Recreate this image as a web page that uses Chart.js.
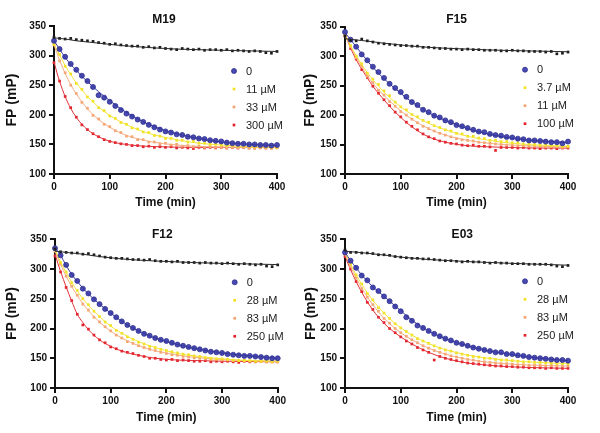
<!DOCTYPE html>
<html><head><meta charset="utf-8">
<script src="https://cdn.jsdelivr.net/npm/chart.js@4.4.1/dist/chart.umd.min.js"></script>
<style>
html,body{margin:0;padding:0;background:#fff;width:600px;height:433px;overflow:hidden}
canvas{position:absolute}
</style></head><body>
<canvas id="c0" width="300" height="216" style="left:0;top:0"></canvas>
<canvas id="c1" width="300" height="216" style="left:300px;top:0"></canvas>
<canvas id="c2" width="300" height="217" style="left:0;top:216px"></canvas>
<canvas id="c3" width="300" height="217" style="left:300px;top:216px"></canvas>
<script>
// ---------- DATA ----------
const TIME = [0,10,20,30,40,50,60,70,80,90,100,110,120,130,140,150,160,170,180,190,200,210,220,230,240,250,260,270,280,290,300,310,320,330,340,350,360,370,380,390,400];
const FIT_TIME = [0,5,10,20,30,40,50,60,80,100,120,150,180,220,260,300,350,400];
const X_TICKS = [0,100,200,300,400];
const Y_TICKS = [100,150,200,250,300,350];
const X_TITLE = 'Time (min)';
const Y_TITLE = 'FP (mP)';

// M19
const M19_LABELS = ['0','11 µM','33 µM','300 µM'];
const M19_BLACK = [331,329,328,329,327,326,325,324,322,321,319,320,318,317,316,316,314,315,313,314,312,311,310,312,311,310,311,309,310,310,309,310,308,309,308,307,308,307,305,304,307];
const M19_BLUE = [325,311,298,286,276,266,257,247,233,229,222,215,208,202,197,192,188,183,179,175,172,170,167,166,163,162,160,159,157,156,155,153,152,151,151,150,150,149,149,148,149];
const M19_YELLOW = [319,302,282,269,253,243,230,223,212,207,198,194,187,184,178,176,171,170,165,164,160,160,157,157,154,155,152,152,150,150,149,148,148,147,147,147,146,146,146,145,145];
const M19_ORANGE = [318,291,271,250,236,221,211,199,193,184,180,173,170,164,163,158,158,154,154,151,152,149,150,147,148,146,147,145,146,145,145,144,145,144,145,144,143,144,144,143,144];
const M19_RED = [288,257,231,212,196,183,175,168,163,158,155,153,151,150,148,148,146,147,145,146,145,146,144,145,144,143,145,144,145,144,145,144,145,144,145,144,145,145,144,145,145];
const M19_BLACK_FIT = [330,329.5,329,328,326.5,325,324,323,321,319,317,315,313,311,310,309,308,307];
const M19_BLUE_FIT = [325,318,311,297,285,275,265,256,239,224,210,193,180,168,160,154,150,148];
const M19_YELLOW_FIT = [320,310,301,283,268,254,242,231,213,199,188,175,166,158,152,149,146,145];
const M19_ORANGE_FIT = [318,305,292,270,251,235,222,210,192,179,169,159.5,153.5,149,146.6,145.4,144.7,144.3];
const M19_RED_FIT = [290,272,256.5,230.7,210.8,195.6,183.9,174.9,162.7,155.4,151.2,147.8,146.3,145.3,145,145,145,145];

// F15
const F15_LABELS = ['0','3.7 µM','11 µM','100 µM'];
const F15_BLACK = [334,327,326,329,326,324,322,321,320,319,318,318,317,317,315,315,314,313,313,312,312,311,312,311,311,310,310,310,309,309,310,309,309,308,308,308,307,308,304,305,307];
const F15_BLUE = [341,328,316,303,293,282,273,263,253,246,239,231,222,217,209,205,199,196,191,188,183,181,178,175,172,171,168,166,165,163,162,160,159,157,157,156,155,154,154,152,155];
const F15_YELLOW = [336,318,300,287,271,261,252,241,233,222,214,209,201,197,191,188,182,179,175,173,169,168,164,164,161,160,157,157,155,155,153,153,151,151,150,149,149,148,148,147,147];
const F15_ORANGE = [336,316,297,283,266,255,242,234,223,215,206,200,193,187,181,177,173,169,166,163,160,158,157,156,154,153,152,151,150,149,149,148,148,147,147,147,146,146,146,145,146];
const F15_RED = [335,313,295,277,264,249,237,226,216,205,197,188,181,175,168,163,160,156,154,152,151,149,148,149,147,147,146,140,145,145,145,144,145,144,144,143,144,144,143,144,144];
const F15_BLACK_FIT = [330,329,328.5,327.5,326.5,325.5,324.5,323,321,319,317,315,313.5,312,310.5,309.5,308.5,307.5];
const F15_BLUE_FIT = [340,334,328,316,304,292,281,271,253,237,222,204,191,177,167,161,156,153];
const F15_YELLOW_FIT = [336,327,318,301,286,272,260,249,230,214,201,186,175,164,157,152,149,147];
const F15_ORANGE_FIT = [336,326,316,298,282,267,254,243,224,207,193,177,166,157,152,149,147,146];
const F15_RED_FIT = [336,325,314,294,278,263,249,237,215,196,180,163,154,148,146,145,144,144];

// F12
const F12_LABELS = ['0','28 µM','83 µM','250 µM'];
const F12_BLACK = [334,329,328,327,327,325,326,324,322,320,319,318,318,317,316,316,315,316,314,313,313,312,313,311,311,311,310,311,310,310,309,310,309,308,309,308,307,308,305,304,307];
const F12_BLUE = [335,323,307,290,280,267,259,249,241,233,226,219,212,206,201,196,191,188,184,181,179,176,173,171,169,167,165,163,161,160,159,157,156,155,154,154,153,152,151,150,150];
const F12_YELLOW = [332,311,295,277,264,250,240,229,220,211,205,197,192,186,182,177,174,170,168,165,163,161,159,157,156,154,153,151,150,149,149,148,147,146,146,146,145,145,145,144,145];
const F12_ORANGE = [330,308,288,271,256,241,231,219,211,203,196,189,184,178,175,171,168,165,163,160,158,156,155,153,152,151,150,149,148,148,147,147,146,146,146,145,145,145,145,144,144];
const F12_RED = [322,295,269,247,224,206,199,189,181,176,169,166,162,160,158,155,153,150,150,148,147,148,146,147,146,145,145,146,144,145,144,145,144,143,145,144,144,145,144,144,144];
const F12_BLACK_FIT = [330,329.5,329,328,327,326,325,323.5,321,319,317,315,313.5,312,310.5,309.5,308.5,307.5];
const F12_BLUE_FIT = [335,330,323,306,291,279,268,258,241,226,212,196,184,173,165,159,154,150];
const F12_YELLOW_FIT = [333,322,312,294,278,263,250,239,220,204,192,178,168,158,153,149,146,145];
const F12_ORANGE_FIT = [330,318.5,307.7,288,270.7,255.4,242,230,210.8,195.5,184,171.2,162.6,155.2,150.7,147.9,146,145];
const F12_RED_FIT = [325,310,296,270,246,224,210,198,181,170,162,155,150,147,146,145,144.5,144];

// E03
const E03_LABELS = ['0','28 µM','83 µM','250 µM'];
const E03_BLACK = [332,328,328,327,327,326,324,324,323,321,320,319,318,318,317,317,316,315,314,314,313,312,313,312,312,311,310,311,310,310,309,309,309,308,308,308,308,307,305,304,306];
const E03_BLUE = [328,314,302,289,281,269,263,254,246,237,229,219,213,205,201,196,191,187,183,180,176,174,171,168,166,164,162,160,160,157,157,155,154,152,151,150,149,148,147,147,146];
const E03_YELLOW = [327,309,290,275,259,248,235,226,217,208,201,195,189,183,179,175,171,167,164,162,159,157,155,153,152,150,150,148,147,147,146,145,144,144,143,143,142,142,141,141,141];
const E03_ORANGE = [325,304,285,267,253,240,229,217,209,200,193,187,181,176,171,167,163,160,157,154,152,150,148,147,145,144,143,142,141,141,140,139,139,138,138,138,137,138,137,137,137];
const E03_RED = [321,300,279,262,244,232,219,210,200,193,186,179,174,168,164,160,147,153,150,148,146,144,142,141,140,139,138,137,137,136,136,135,135,134,134,134,133,134,133,133,133];
const E03_BLACK_FIT = [330,329.5,329,328.5,327.5,326.5,325.5,324.5,322.5,320,318.5,316,314.5,312.5,311,309.5,308,306.5];
const E03_BLUE_FIT = [328,321,314,302,290,280,270,262,246,230,214,196,183,171,162,156,150,146];
const E03_YELLOW_FIT = [328,317.8,308.2,290.4,274.5,260.1,247.5,236,216.7,201.2,188.9,174.7,164.5,155.4,149.6,145.8,142.8,141.3];
const E03_ORANGE_FIT = [325,314,304,285,268,253,240,228,208,193,181,167,157,148,143,140,138,137];
const E03_RED_FIT = [322,310,299,279,261,245,231,219,200,186,174,160,150,142,138,135.5,134,133];

// ---------- STYLE / LAYOUT ----------
const FONT = '"Liberation Sans", Arial, Helvetica, sans-serif';
Chart.defaults.font.family = FONT;
Chart.defaults.color = '#111';

const STYLES = [
  {color:'#1a1a1a', border:'#1a1a1a', line:'#2a2a2a', shape:'rect', r:1.9, bw:0},
  {color:'#4a4bb2', border:'#2c2d8e', line:'#35369c', shape:'circle', r:2.5, bw:0.8},
  {color:'#f1e11e', border:'#f1e11e', line:'#f3e43a', shape:'rect', r:1.9, bw:0},
  {color:'#f4a46e', border:'#f4a46e', line:'#f5ac80', shape:'rect', r:1.9, bw:0},
  {color:'#e2232c', border:'#e2232c', line:'#e33038', shape:'rect', r:1.9, bw:0}
];

const panelDeco = {
  id:'panelDeco',
  afterDatasetsDraw(chart, args, o) {
    const ctx = chart.ctx, a = chart.chartArea;
    ctx.save();
    ctx.fillStyle = '#111';
    ctx.font = 'bold 12px ' + FONT;
    ctx.textAlign = 'center';
    ctx.textBaseline = 'middle';
    ctx.fillText(o.title, (a.left + a.right) / 2 + o.titleDx, o.titleY);
    ctx.font = '11px ' + FONT;
    ctx.textAlign = 'left';
    o.items.forEach((it, i) => {
      const y = a.top + o.legTop + i * o.legStep;
      const x = a.right - o.markDx;
      const s = it.style;
      ctx.fillStyle = s.color;
      ctx.strokeStyle = s.border;
      ctx.lineWidth = s.bw;
      if (s.shape === 'circle') {
        ctx.beginPath(); ctx.arc(x, y, s.r, 0, Math.PI * 2); ctx.fill(); if (s.bw) ctx.stroke();
      } else {
        const h = s.r * Math.SQRT1_2;
        ctx.fillRect(x - h, y - h, 2 * h, 2 * h);
      }
      ctx.fillStyle = '#222';
      ctx.fillText(it.label, a.right - o.textDx, y + 0.5);
    });
    ctx.restore();
  }
};

function makePanel(id, title, labels, dataSets, fitSets, L) {
  const datasets = [];
  const items = [];
  dataSets.forEach((vals, i) => {
    const s = STYLES[i];
    datasets.push({
      type:'line', label:'fit', data: FIT_TIME.map((t, j) => ({x:t, y:fitSets[i][j]})),
      borderColor:s.line, borderWidth:1, pointRadius:0, cubicInterpolationMode:'monotone', fill:false, clip:false
    });
    datasets.push({
      type:'line', showLine:false, label: i === 0 ? 'control' : labels[i - 1],
      data: TIME.map((t, j) => ({x:t, y:vals[j]})),
      pointStyle:s.shape, pointRadius:s.r, pointBackgroundColor:s.color, pointBorderColor:s.border,
      pointBorderWidth:s.bw, pointHoverRadius:s.r, clip:false
    });
    if (i > 0) items.push({label: labels[i - 1], style: s});
  });
  const tickFont = {size:10, weight:'bold'};
  const grid = {display:true, drawOnChartArea:false, drawTicks:true, tickLength:5, tickWidth:2, tickColor:'#111', color:'#111', lineWidth:2};
  const border = {display:true, color:'#111', width:2};
  new Chart(document.getElementById(id), {
    type:'line',
    data:{datasets},
    options:{
      responsive:false, animation:false, devicePixelRatio:1,
      layout:{padding:L.pad},
      plugins:{legend:{display:false}, tooltip:{enabled:false},
        panelDeco:{title, items, titleY:L.titleY, titleDx:L.titleDx, legTop:L.legTop, legStep:18, markDx:43, textDx:31}},
      scales:{
        x:{type:'linear', min:0, max:400, grid, border,
           afterBuildTicks: sc => { sc.ticks = X_TICKS.map(v => ({value:v})); },
           afterFit: sc => { sc.height = L.xH; },
           ticks:{font:tickFont, color:'#111', padding:2, maxRotation:0},
           title:{display:true, text:X_TITLE, font:{size:12, weight:'bold'}, color:'#111', padding:{top:0, bottom:L.xTitlePad}}},
        y:{type:'linear', min:100, max:350, grid, border,
           afterBuildTicks: sc => { sc.ticks = Y_TICKS.map(v => ({value:v})); },
           afterFit: sc => { sc.width = L.yW; },
           ticks:{font:tickFont, color:'#111', padding:3},
           title:{display:true, text:Y_TITLE, font:{size:14, weight:'bold'}, color:'#111', padding:{top:L.yTitlePad, bottom:0}}}
      }
    },
    plugins:[panelDeco]
  });
}

makePanel('c0', 'M19', M19_LABELS,
  [M19_BLACK, M19_BLUE, M19_YELLOW, M19_ORANGE, M19_RED],
  [M19_BLACK_FIT, M19_BLUE_FIT, M19_YELLOW_FIT, M19_ORANGE_FIT, M19_RED_FIT],
  {pad:{left:0, top:26, right:23, bottom:0}, yW:54, xH:42, xTitlePad:6.5, yTitlePad:3.3, titleY:19.3, titleDx:-1.5, legTop:45});
makePanel('c1', 'F15', F15_LABELS,
  [F15_BLACK, F15_BLUE, F15_YELLOW, F15_ORANGE, F15_RED],
  [F15_BLACK_FIT, F15_BLUE_FIT, F15_YELLOW_FIT, F15_ORANGE_FIT, F15_RED_FIT],
  {pad:{left:0, top:26.7, right:32, bottom:0}, yW:45, xH:42, xTitlePad:6.5, yTitlePad:1.6, titleY:19.3, titleDx:0, legTop:43});
makePanel('c2', 'F12', F12_LABELS,
  [F12_BLACK, F12_BLUE, F12_YELLOW, F12_ORANGE, F12_RED],
  [F12_BLACK_FIT, F12_BLUE_FIT, F12_YELLOW_FIT, F12_ORANGE_FIT, F12_RED_FIT],
  {pad:{left:0, top:23.3, right:22.3, bottom:0}, yW:55, xH:45, xTitlePad:8.1, yTitlePad:3.3, titleY:18.3, titleDx:-4, legTop:43});
makePanel('c3', 'E03', E03_LABELS,
  [E03_BLACK, E03_BLUE, E03_YELLOW, E03_ORANGE, E03_RED],
  [E03_BLACK_FIT, E03_BLUE_FIT, E03_YELLOW_FIT, E03_ORANGE_FIT, E03_RED_FIT],
  {pad:{left:0, top:23.3, right:32, bottom:0}, yW:45, xH:45, xTitlePad:8.1, yTitlePad:2.5, titleY:18.3, titleDx:5.8, legTop:42});
</script>
</body></html>
